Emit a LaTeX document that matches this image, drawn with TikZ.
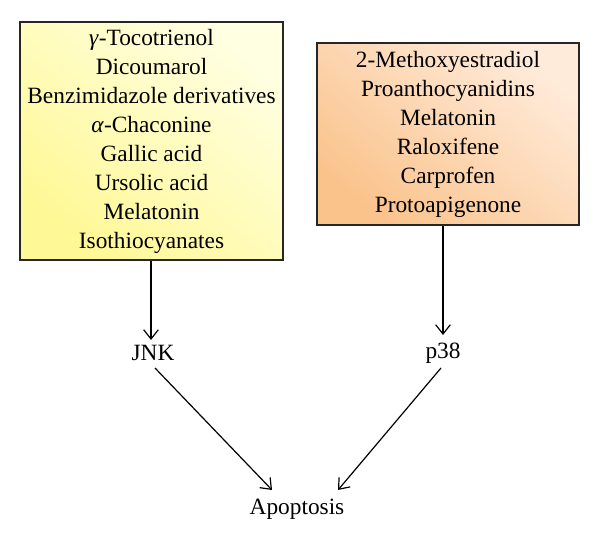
\documentclass[tikz,border=0pt]{standalone}
\usepackage{fontspec}
\setmainfont{Liberation Serif}
\usetikzlibrary{arrows.meta}
\definecolor{ylight}{RGB}{255,255,225}
\definecolor{ydark}{RGB}{255,248,150}
\definecolor{olight}{RGB}{255,235,218}
\definecolor{odark}{RGB}{250,195,140}
\begin{document}
\begin{tikzpicture}[x=0.75pt,y=-0.75pt,
  listbox/.style={draw=black!85,line width=0.9pt,align=center,font=\fontsize{17.5}{21.75}\selectfont,inner sep=0pt},
  lbl/.style={font=\fontsize{17.5}{20}\selectfont,inner sep=1pt},
  arr/.style={-{Straight Barb[length=7pt,width=11pt]},line width=0.9pt}]
\useasboundingbox (0,0) rectangle (600,541);
\node[listbox,minimum width=263*0.75pt,minimum height=238*0.75pt,top color=ylight,bottom color=ydark,shading angle=-40] (L) at (151.5,141)
 {\textit{γ}-Tocotrienol\\Dicoumarol\\Benzimidazole derivatives\\\textit{α}-Chaconine\\Gallic acid\\Ursolic acid\\Melatonin\\Isothiocyanates};
\node[listbox,minimum width=262*0.75pt,minimum height=182*0.75pt,top color=olight,bottom color=odark,shading angle=-40] (R) at (448,134)
 {2-Methoxyestradiol\\Proanthocyanidins\\Melatonin\\Raloxifene\\Carprofen\\Protoapigenone};
\node[lbl] (J) at (153,353) {JNK};
\node[lbl] (P) at (443,353) {p38};
\node[lbl] (A) at (297,509) {Apoptosis};
\draw[arr] (L.south -| 151,0) -- (151,340);
\draw[arr] (R.south -| 443,0) -- (443,335);
\draw[arr] (155,368) -- (272,490);
\draw[arr] (441,368) -- (338,490);
\end{tikzpicture}
\end{document}
